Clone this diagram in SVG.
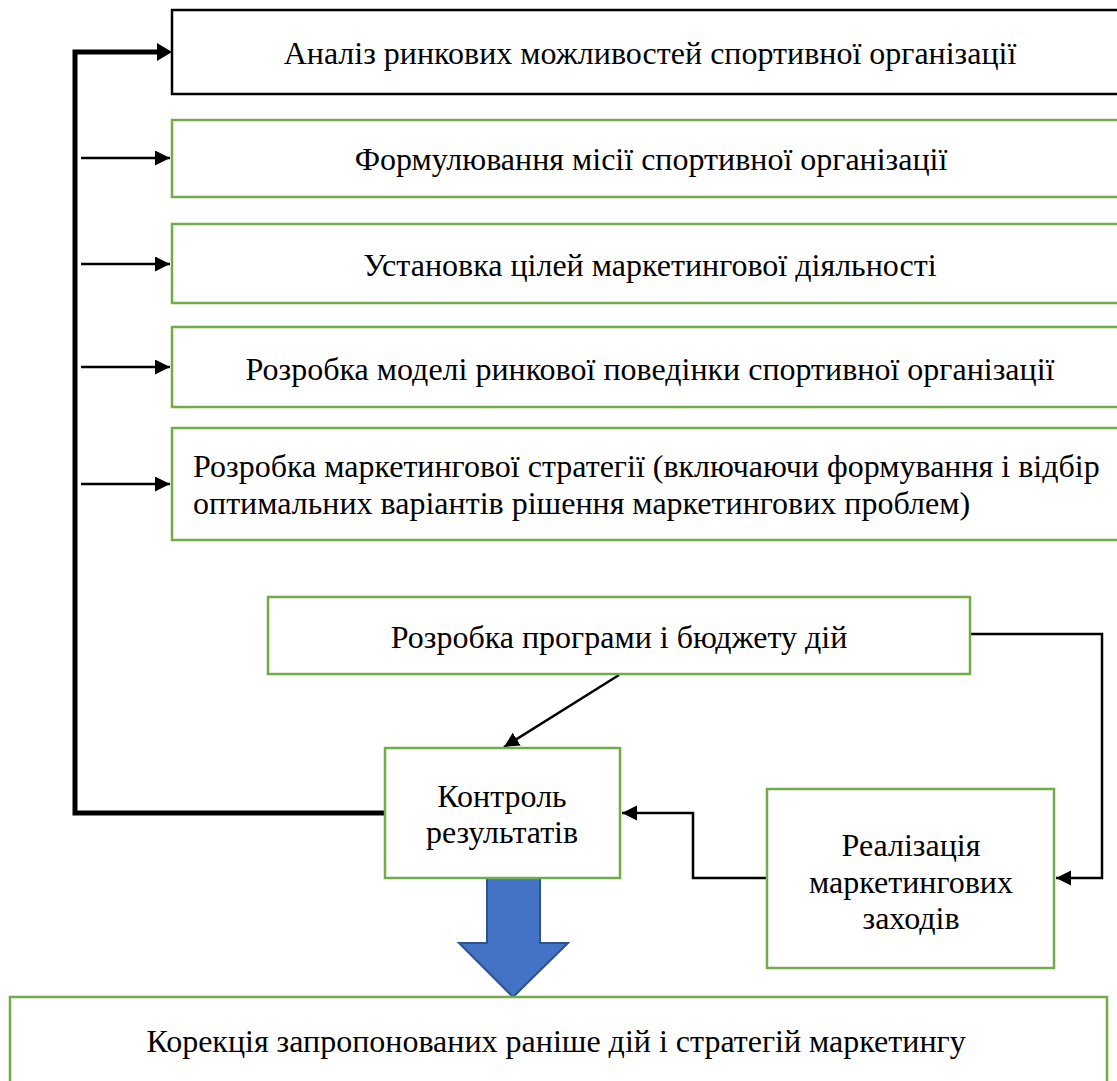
<svg xmlns="http://www.w3.org/2000/svg" width="1117" height="1081" viewBox="0 0 1117 1081">
<style>
  .bx { fill: #ffffff; stroke: #70AD47; stroke-width: 2.5; }
  .bk { fill: #ffffff; stroke: #000000; stroke-width: 2.5; }
  .t { font-family: "Liberation Serif", "DejaVu Serif", serif; font-size: 32px; fill: #000000; }
  .c { text-anchor: middle; }
  .ln { fill: none; stroke: #000000; stroke-width: 2.5; }
  .thick { fill: none; stroke: #000000; stroke-width: 5; }
</style>
<defs>
  <marker id="ah" markerUnits="userSpaceOnUse" markerWidth="16" markerHeight="16" refX="15" refY="7.5" orient="auto">
    <path d="M0,0 L15,7.5 L0,15 z" fill="#000000"/>
  </marker>
</defs>
<rect width="1117" height="1081" fill="#ffffff"/>

<g id="connectors">
  <path class="thick" d="M385,813 H75 V52 H158"/>
  <polygon points="157,43 172,52 157,61" fill="#000000"/>
  <path class="ln" d="M81,158 H170" marker-end="url(#ah)"/>
  <path class="ln" d="M81,264 H170" marker-end="url(#ah)"/>
  <path class="ln" d="M81,367 H170" marker-end="url(#ah)"/>
  <path class="ln" d="M81,484 H170" marker-end="url(#ah)"/>
  <path class="ln" d="M619,675 L504,747" marker-end="url(#ah)"/>
  <path class="ln" d="M970,634 H1102 V878 H1056" marker-end="url(#ah)"/>
  <path class="ln" d="M767,878 H693 V813 H622" marker-end="url(#ah)"/>
  <polygon id="blue-arrow" points="487,878 540,878 540,943 568,943 513,997 459,943 487,943" fill="#4472C4" stroke="#2F528F" stroke-width="2"/>
</g>

<g id="n1">
  <rect class="bk" x="172" y="10" width="960" height="84"/>
  <text class="t c" x="650" y="64">Аналіз ринкових можливостей спортивної організації</text>
</g>
<g id="n2">
  <rect class="bx" x="172" y="120" width="960" height="77"/>
  <text class="t c" x="651" y="170">Формулювання місії спортивної організації</text>
</g>
<g id="n3">
  <rect class="bx" x="172" y="224" width="960" height="79"/>
  <text class="t c" x="650" y="276">Установка цілей маркетингової діяльності</text>
</g>
<g id="n4">
  <rect class="bx" x="172" y="327" width="960" height="80"/>
  <text class="t c" x="650" y="380">Розробка моделі ринкової поведінки спортивної організації</text>
</g>
<g id="n5">
  <rect class="bx" x="172" y="428" width="960" height="112"/>
  <text class="t" x="193" y="477">Розробка маркетингової стратегії (включаючи формування і відбір</text>
  <text class="t" x="193" y="514">оптимальних варіантів рішення маркетингових проблем)</text>
</g>
<g id="n6">
  <rect class="bx" x="268" y="597" width="702" height="77"/>
  <text class="t c" x="619" y="648">Розробка програми і бюджету дій</text>
</g>
<g id="n7">
  <rect class="bx" x="385" y="748" width="235" height="130"/>
  <text class="t c" x="502" y="807">Контроль</text>
  <text class="t c" x="502" y="843">результатів</text>
</g>
<g id="n8">
  <rect class="bx" x="767" y="789" width="287" height="179"/>
  <text class="t c" x="911" y="856">Реалізація</text>
  <text class="t c" x="911" y="893">маркетингових</text>
  <text class="t c" x="911" y="929">заходів</text>
</g>
<g id="n9">
  <rect class="bx" x="10" y="997" width="1097" height="100"/>
  <text class="t c" x="556" y="1052">Корекція запропонованих раніше дій і стратегій маркетингу</text>
</g>
</svg>
